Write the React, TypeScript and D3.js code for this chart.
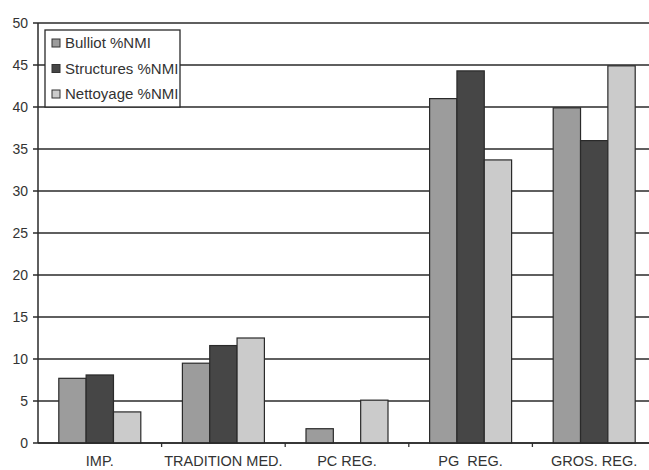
import React from "react";
import * as d3 from "d3";

const categories = ["IMP.", "TRADITION MED.", "PC REG.", "PG  REG.", "GROS. REG."];
const seriesNames = ["Bulliot %NMI", "Structures %NMI", "Nettoyage %NMI"];
const bulliot = [7.7, 9.5, 1.7, 41.0, 39.9];
const structures = [8.1, 11.6, 0, 44.3, 36.0];
const nettoyage = [3.7, 12.5, 5.1, 33.7, 44.9];
const yTicks = [0, 5, 10, 15, 20, 25, 30, 35, 40, 45, 50];
const colors = ["#9c9c9c", "#464646", "#cbcbcb"];

export default function App() {
  const W = 649, H = 470;
  const left = 38, right = 656, top = 23, bottom = 443;
  const x = d3.scaleBand<string>().domain(categories).range([left, right]).paddingInner(0).paddingOuter(0);
  const y = d3.scaleLinear().domain([0, 50]).range([bottom, top]);
  const series = [bulliot, structures, nettoyage];
  const groupW = 82;
  const xs = d3.scaleBand<number>().domain([0, 1, 2]).range([0, groupW]);
  const font = "'Liberation Sans', Arial, sans-serif";
  return (
    <svg width={W} height={H} style={{ position: "absolute", left: 0, top: 0, background: "#fff" }} fontFamily={font}>
      <rect x={0} y={0} width={W} height={H} fill="#fff" />
      {yTicks.map((t) => (
        <g key={t}>
          <line x1={left - 5} x2={right} y1={y(t)} y2={y(t)} stroke="#2a2a2a" strokeWidth={1.3} />
          <text x={28} y={y(t)} dy="0.35em" textAnchor="end" fontSize={14} fill="#333">{t}</text>
        </g>
      ))}
      {categories.map((c, i) => (
        <g key={c}>
          {series.map((s, j) => {
            const x0 = (x(c) as number) + x.bandwidth() / 2 - groupW / 2 + (xs(j) as number);
            if (s[i] <= 0) return null;
            return (
              <rect key={j} x={x0} y={y(s[i])} width={xs.bandwidth()} height={bottom - y(s[i])}
                fill={colors[j]} stroke="#2a2a2a" strokeWidth={1.2} />
            );
          })}
          <text x={(x(c) as number) + x.bandwidth() / 2} y={461} dy="0.35em" textAnchor="middle" fontSize={14.5} fill="#333" style={{ whiteSpace: "pre" }}>{c}</text>
          {i > 0 && <line x1={x(c)} x2={x(c)} y1={bottom} y2={bottom + 4} stroke="#333" strokeWidth={1.3} />}
        </g>
      ))}
      <line x1={left} x2={left} y1={top} y2={bottom} stroke="#2a2a2a" strokeWidth={1.5} />
      <line x1={left} x2={right} y1={bottom} y2={bottom} stroke="#2a2a2a" strokeWidth={1.5} />
      <g>
        <rect x={45} y={30} width={135} height={77} fill="#fff" stroke="#2a2a2a" strokeWidth={1.3} />
        {seriesNames.map((n, j) => (
          <g key={n}>
            <rect x={52} y={39 + j * 25.5} width={8} height={8} fill={colors[j]} stroke="#333" strokeWidth={1} />
            <text x={65} y={43 + j * 25.5} dy="0.35em" fontSize={15} fill="#333">{n}</text>
          </g>
        ))}
      </g>
    </svg>
  );
}
